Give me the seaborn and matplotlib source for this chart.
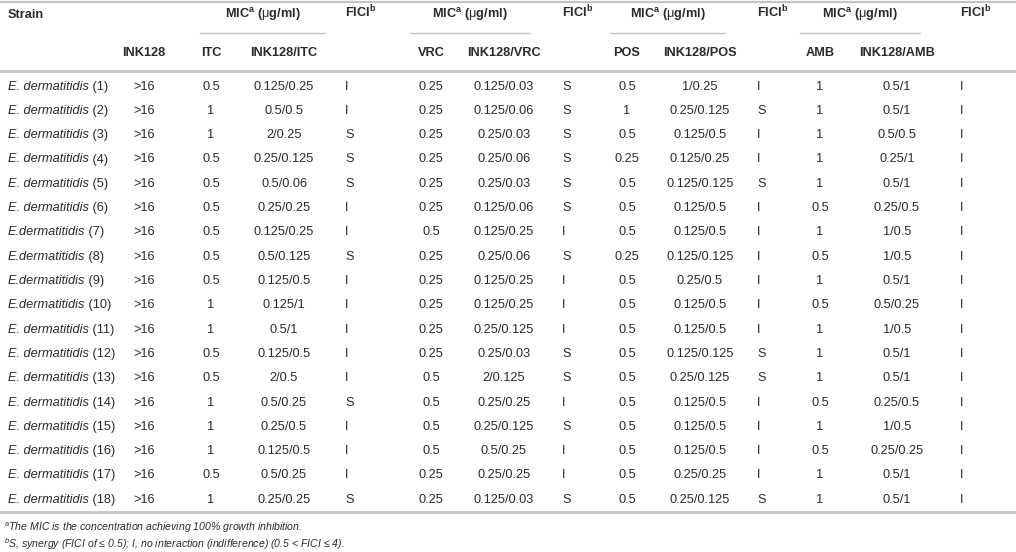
import numpy as np
import pandas as pd
import seaborn as sns
import matplotlib.pyplot as plt

# table values
strain_space = [True] * 6 + [False] * 4 + [True] * 8
ink128 = [">16"] * 18
itc = ["0.5", "1", "1", "0.5", "0.5", "0.5", "0.5", "0.5", "0.5", "1", "1", "0.5", "0.5", "1", "1", "1", "0.5", "1"]
ink_itc = ["0.125/0.25", "0.5/0.5", "2/0.25", "0.25/0.125", "0.5/0.06", "0.25/0.25", "0.125/0.25", "0.5/0.125",
           "0.125/0.5", "0.125/1", "0.5/1", "0.125/0.5", "2/0.5", "0.5/0.25", "0.25/0.5", "0.125/0.5", "0.5/0.25", "0.25/0.25"]
fici_itc = ["I", "I", "S", "S", "S", "I", "I", "S", "I", "I", "I", "I", "I", "S", "I", "I", "I", "S"]
vrc = ["0.25", "0.25", "0.25", "0.25", "0.25", "0.25", "0.5", "0.25", "0.25", "0.25", "0.25", "0.25", "0.5", "0.5", "0.5", "0.5", "0.25", "0.25"]
ink_vrc = ["0.125/0.03", "0.125/0.06", "0.25/0.03", "0.25/0.06", "0.25/0.03", "0.125/0.06", "0.125/0.25", "0.25/0.06",
           "0.125/0.25", "0.125/0.25", "0.25/0.125", "0.25/0.03", "2/0.125", "0.25/0.25", "0.25/0.125", "0.5/0.25", "0.25/0.25", "0.125/0.03"]
fici_vrc = ["S", "S", "S", "S", "S", "S", "I", "S", "I", "I", "I", "S", "S", "I", "S", "I", "I", "S"]
pos = ["0.5", "1", "0.5", "0.25", "0.5", "0.5", "0.5", "0.25", "0.5", "0.5", "0.5", "0.5", "0.5", "0.5", "0.5", "0.5", "0.5", "0.5"]
ink_pos = ["1/0.25", "0.25/0.125", "0.125/0.5", "0.125/0.25", "0.125/0.125", "0.125/0.5", "0.125/0.5", "0.125/0.125",
           "0.25/0.5", "0.125/0.5", "0.125/0.5", "0.125/0.125", "0.25/0.125", "0.125/0.5", "0.125/0.5", "0.125/0.5", "0.25/0.25", "0.25/0.125"]
fici_pos = ["I", "S", "I", "I", "S", "I", "I", "I", "I", "I", "I", "S", "S", "I", "I", "I", "I", "S"]
amb = ["1", "1", "1", "1", "1", "0.5", "1", "0.5", "1", "0.5", "1", "1", "1", "0.5", "1", "0.5", "1", "1"]
ink_amb = ["0.5/1", "0.5/1", "0.5/0.5", "0.25/1", "0.5/1", "0.25/0.5", "1/0.5", "1/0.5", "0.5/1", "0.5/0.25",
           "1/0.5", "0.5/1", "0.5/1", "0.25/0.5", "1/0.5", "0.25/0.25", "0.5/1", "0.5/1"]
fici_amb = ["I"] * 18

drugs = ["ITC", "VRC", "POS", "AMB"]

sns.set_theme(style="white")
plt.rcParams['font.family'] = ['Liberation Sans', 'DejaVu Sans']
plt.rcParams['mathtext.fontset'] = 'custom'
plt.rcParams['mathtext.rm'] = 'Liberation Sans'
plt.rcParams['mathtext.it'] = 'Liberation Sans:italic'
plt.rcParams['mathtext.bf'] = 'Liberation Sans:bold'

txt = '#2a2a2a'
line_c = '#c4c4c4'
fs = 9.2
base = 3.6  # baseline offset from row centre, px

df = pd.DataFrame({
    'ink128': ink128, 'ITC': itc, 'INK128/ITC': ink_itc, 'F_ITC': fici_itc,
    'VRC': vrc, 'INK128/VRC': ink_vrc, 'F_VRC': fici_vrc,
    'POS': pos, 'INK128/POS': ink_pos, 'F_POS': fici_pos,
    'AMB': amb, 'INK128/AMB': ink_amb, 'F_AMB': fici_amb,
})

fig = plt.figure(figsize=(10.16, 5.52), dpi=100)
ax = fig.add_axes([0, 0, 1, 1])
ax.set_xlim(0, 1016)
ax.set_ylim(552, 0)
ax.axis('off')

# column layout: (key, x, align)
cols = [('ink128', 144, 'center'),
        ('ITC', 211, 'center'), ('INK128/ITC', 284, 'center'), ('F_ITC', 345, 'left'),
        ('VRC', 431, 'center'), ('INK128/VRC', 504, 'center'), ('F_VRC', 562, 'left'),
        ('POS', 627, 'center'), ('INK128/POS', 700, 'center'), ('F_POS', 757, 'left'),
        ('AMB', 820, 'center'), ('INK128/AMB', 897, 'center'), ('F_AMB', 960, 'left')]
spans = [(200, 325), (410, 530), (610, 725), (800, 920)]

y_h1, y_h2 = 14, 52
ax.plot([0, 1016], [2, 2], color=line_c, lw=1.6)
ax.plot([0, 1016], [71, 71], color=line_c, lw=2.0)
ax.plot([0, 1016], [512, 512], color=line_c, lw=2.0)

ax.text(8, y_h1 + base, "Strain", ha='left', va='baseline', fontsize=fs, fontweight='bold', color=txt)
ax.text(144, y_h2 + base, "INK128", ha='center', va='baseline', fontsize=fs, fontweight='bold', color=txt)
for (x0, x1), d, fx in zip(spans, drugs, [345, 562, 757, 960]):
    ax.plot([x0, x1], [33, 33], color=line_c, lw=1.0)
    ax.text((x0 + x1) / 2, y_h1 + base, r"MIC$^{\mathbf{a}}$ ($\mathrm{\mu}$g/ml)", ha='center', va='baseline',
            fontsize=fs, fontweight='bold', color=txt)
    ax.text(fx, y_h1 + base, r"FICI$^{\mathbf{b}}$", ha='left', va='baseline', fontsize=fs, fontweight='bold', color=txt)
for key, x, al in cols[1:]:
    if key.startswith('F_'):
        continue
    ax.text(x, y_h2 + base, key, ha='center', va='baseline', fontsize=fs, fontweight='bold', color=txt)

fig.canvas.draw()
renderer = fig.canvas.get_renderer()
inv = ax.transData.inverted()

y0, dy = 86, 24.3
for i in range(len(df)):
    y = y0 + i * dy + base
    name = "E. dermatitidis" if strain_space[i] else "E.dermatitidis"
    t = ax.text(8, y, name, ha='left', va='baseline', fontsize=fs, style='italic', color=txt)
    bb = t.get_window_extent(renderer=renderer)
    x_end = inv.transform((bb.x1, bb.y0))[0]
    ax.text(x_end, y, f" ({i + 1})", ha='left', va='baseline', fontsize=fs, color=txt)
    for key, x, al in cols:
        ax.text(x, y, df.loc[i, key], ha=al, va='baseline', fontsize=fs, color=txt)

ax.text(4, 531, r"$^{\mathit{a}}$The MIC is the concentration achieving 100% growth inhibition.",
        ha='left', va='baseline', fontsize=7.6, style='italic', color=txt)
ax.text(4, 548, r"$^{\mathit{b}}$S, synergy (FICI of ≤ 0.5); I, no interaction (indifference) (0.5 < FICI ≤ 4).",
        ha='left', va='baseline', fontsize=7.6, style='italic', color=txt)

fig.savefig("out.png", dpi=100)
